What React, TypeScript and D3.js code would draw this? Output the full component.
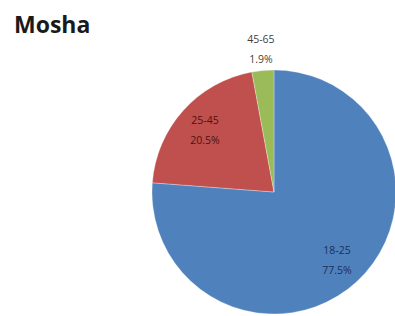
import React, { useEffect, useRef } from "react";
import * as d3 from "d3";

// age groups, slice sizes as drawn (%) and the printed percentages
const categories = ["18-25", "25-45", "45-65"];
const shares = [76.2, 20.9, 2.9];
const shareLabels = ["77.5%", "20.5%", "1.9%"];
const colors = ["#4f81bd", "#c0504d", "#9bbb59"];
const labelColors = ["#1c2f5c", "#4a1414", "#3f3f3f"];

export default function App() {
  const ref = useRef<SVGSVGElement>(null);

  useEffect(() => {
    const width = 395, height = 316;
    const cx = 274, cy = 192, r = 122;

    const svg = d3.select(ref.current).attr("width", width).attr("height", height);
    svg.selectAll("*").remove();

    svg.append("text")
      .attr("x", 14)
      .attr("y", 33)
      .attr("font-family", "'Open Sans', sans-serif")
      .attr("font-weight", "bold")
      .attr("font-size", 23)
      .attr("fill", "#1a1a1a")
      .text("Mosha");

    const data = categories.map((c, i) => ({ name: c, value: shares[i], label: shareLabels[i], i }));

    const pie = d3.pie<any>().sort(null).value(d => d.value);
    const arcs = pie(data);
    const arc = d3.arc<any>().innerRadius(0).outerRadius(r);
    const inLabel = d3.arc<any>().innerRadius(r * 0.76).outerRadius(r * 0.76);
    const outLabel = d3.arc<any>().innerRadius(r * 1.18).outerRadius(r * 1.18);

    const g = svg.append("g").attr("transform", `translate(${cx}, ${cy})`);

    g.selectAll("path").data(arcs).join("path")
      .attr("d", arc)
      .attr("fill", d => colors[d.data.i])
      .attr("stroke", "#ffffff")
      .attr("stroke-width", 0.3);

    // small slices get their label outside the pie
    const labels = g.selectAll("g.lbl").data(arcs).join("g")
      .attr("class", "lbl")
      .attr("transform", d => {
        const small = d.endAngle - d.startAngle < 0.3;
        const [x, y] = (small ? outLabel : inLabel).centroid(d);
        return `translate(${x}, ${y})`;
      });

    labels.append("text")
      .attr("text-anchor", "middle")
      .attr("y", -6)
      .attr("font-family", "'Open Sans', sans-serif")
      .attr("font-size", 10.5)
      .attr("fill", d => labelColors[d.data.i])
      .text(d => d.data.name);

    labels.append("text")
      .attr("text-anchor", "middle")
      .attr("y", 14)
      .attr("font-family", "'Open Sans', sans-serif")
      .attr("font-size", 10.5)
      .attr("fill", d => labelColors[d.data.i])
      .text(d => d.data.label);
  }, []);

  return (
    <svg ref={ref} style={{ position: "absolute", left: 0, top: 0, background: "#fff" }}></svg>
  );
}
